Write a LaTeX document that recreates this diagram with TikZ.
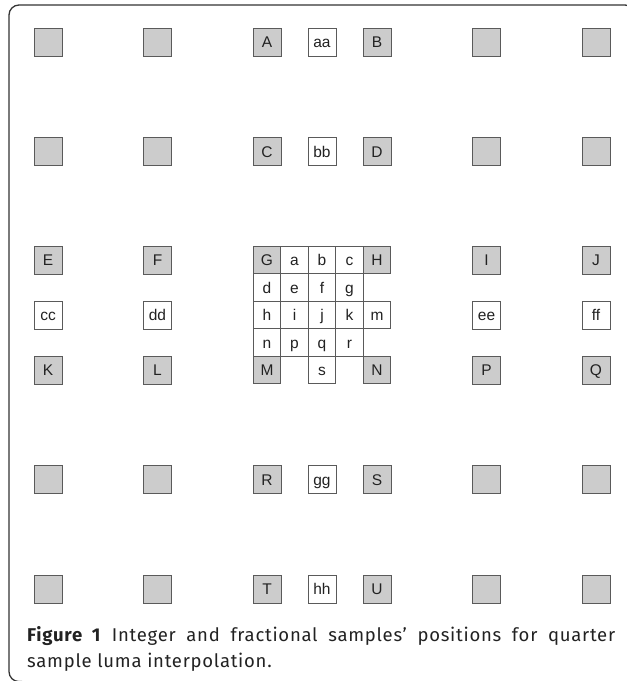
\documentclass[tikz,border=0pt]{standalone}
\usepackage{fontspec}
\setmainfont{Liberation Sans}
\newfontfamily\capfont[LetterSpace=4]{Fira Sans}
\definecolor{boxgray}{HTML}{5A5A5A}
\definecolor{fillgray}{HTML}{CCCCCC}
\definecolor{txt}{HTML}{222222}
\definecolor{framec}{HTML}{333333}
\begin{document}
\begin{tikzpicture}[x=1pt,y=-1pt,
  cell/.style={draw=boxgray, line width=1pt, minimum size=28pt, inner sep=0pt,
    font=\fontsize{15.5}{17}\selectfont, text=txt, text height=11.1pt, text depth=0pt},
  gcell/.style={cell, fill=fillgray},
  wcell/.style={cell, fill=white},
  icell/.style={cell, minimum size=27.5pt, fill=white},
  igcell/.style={cell, minimum size=27.5pt, fill=fillgray},
  framestyle/.style={draw=framec, line width=1.3pt, rounded corners=10pt}]
\useasboundingbox (0,0) rectangle (627,681);
% frame
\draw[framestyle] (22,681.6) -| (9,5) -| (635,45);
% row 1
\node[gcell] (r1c1) at (48,42) {};
\node[gcell] (r1c2) at (157.5,42) {};
\node[gcell] (A) at (267,42) {A};
\node[wcell] (aa) at (322,42) {aa};
\node[gcell] (B) at (377,42) {B};
\node[gcell] (r1c6) at (486.5,42) {};
\node[gcell] (r1c7) at (596,42) {};
% row 2
\node[gcell] (r2c1) at (48,151.5) {};
\node[gcell] (r2c2) at (157.5,151.5) {};
\node[gcell] (C) at (267,151.5) {C};
\node[wcell] (bb) at (322,151.5) {bb};
\node[gcell] (D) at (377,151.5) {D};
\node[gcell] (r2c6) at (486.5,151.5) {};
\node[gcell] (r2c7) at (596,151.5) {};
% row 3
\node[gcell] (E) at (48,260) {E};
\node[gcell] (F) at (157.5,260) {F};
\node[gcell] (I) at (486.5,260) {I};
\node[gcell] (J) at (596,260) {J};
% row cc
\node[wcell] (cc) at (48,315) {cc};
\node[wcell] (dd) at (157.5,315) {dd};
\node[wcell] (ee) at (486.5,315) {ee};
\node[wcell] (ff) at (596,315) {ff};
% row K
\node[gcell] (K) at (48,370) {K};
\node[gcell] (L) at (157.5,370) {L};
\node[gcell] (P) at (486.5,370) {P};
\node[gcell] (Q) at (596,370) {Q};
% row 6
\node[gcell] (r6c1) at (48,479.5) {};
\node[gcell] (r6c2) at (157.5,479.5) {};
\node[gcell] (R) at (267,479.5) {R};
\node[wcell] (gg) at (322,479.5) {gg};
\node[gcell] (S) at (377,479.5) {S};
\node[gcell] (r6c6) at (486.5,479.5) {};
\node[gcell] (r6c7) at (596,479.5) {};
% row 7
\node[gcell] (r7c1) at (48,589) {};
\node[gcell] (r7c2) at (157.5,589) {};
\node[gcell] (T) at (267,589) {T};
\node[wcell] (hh) at (322,589) {hh};
\node[gcell] (U) at (377,589) {U};
\node[gcell] (r7c6) at (486.5,589) {};
\node[gcell] (r7c7) at (596,589) {};
% centre grid
\node[igcell] (G) at (267,260) {G};
\node[icell] (a) at (294.5,260) {a};
\node[icell] (b) at (322,260) {b};
\node[icell] (c) at (349.5,260) {c};
\node[igcell] (H) at (377,260) {H};
\node[icell] (d) at (267,287.5) {d};
\node[icell] (e) at (294.5,287.5) {e};
\node[icell] (f) at (322,287.5) {f};
\node[icell] (g) at (349.5,287.5) {g};
\node[icell] (h) at (267,315) {h};
\node[icell] (i) at (294.5,315) {i};
\node[icell] (j) at (322,315) {j};
\node[icell] (k) at (349.5,315) {k};
\node[icell] (m) at (377,315) {m};
\node[icell] (n) at (267,342.5) {n};
\node[icell] (p) at (294.5,342.5) {p};
\node[icell] (q) at (322,342.5) {q};
\node[icell] (r) at (349.5,342.5) {r};
\node[igcell] (M) at (267,370) {M};
\node[icell] (s) at (322,370) {s};
\node[igcell] (N) at (377,370) {N};
% caption
\node[anchor=north west, inner sep=0pt, text width=588pt, align=justify,
  font=\capfont\fontsize{18.5}{26}\selectfont, text=txt] (caption) at (27,626)
  {\textbf{Figure 1} Integer and fractional samples’ positions for quarter\linebreak
   sample luma interpolation.};
\end{tikzpicture}
\end{document}
